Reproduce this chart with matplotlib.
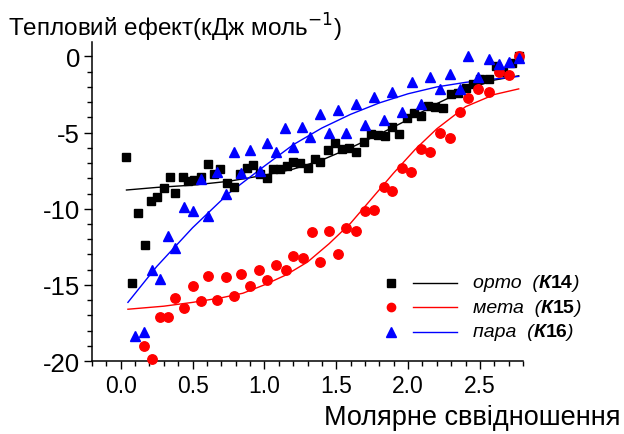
import numpy as np
import matplotlib
matplotlib.use("Agg")
import matplotlib.pyplot as plt
from matplotlib.ticker import MultipleLocator

plt.rcParams['font.family'] = ['Liberation Sans', 'DejaVu Sans']
plt.rcParams['axes.unicode_minus'] = False

# --- measured heat effect, kJ/mol, vs molar ratio ---
ortho_x = [0.04, 0.08, 0.12, 0.17, 0.21, 0.25, 0.30, 0.34, 0.38, 0.43, 0.47, 0.51,
           0.56, 0.61, 0.65, 0.69, 0.74, 0.79, 0.83, 0.88, 0.92, 0.97, 1.02, 1.06,
           1.11, 1.16, 1.20, 1.25, 1.30, 1.35, 1.39, 1.44, 1.49, 1.54, 1.59, 1.64,
           1.69, 1.74, 1.79, 1.84, 1.89, 1.94, 1.99, 2.04, 2.09, 2.14, 2.19, 2.24,
           2.30, 2.35, 2.40, 2.45, 2.50, 2.56, 2.61, 2.66, 2.72, 2.77]
ortho_y = [-6.6, -14.9, -10.25, -12.35, -9.5, -9.2, -8.65, -7.9, -8.95, -7.9, -8.2, -8.1,
           -7.9, -7.05, -7.7, -7.4, -8.3, -8.55, -7.75, -7.35, -7.15, -7.7, -7.95, -7.4,
           -7.4, -7.2, -6.9, -7.0, -7.35, -6.75, -6.9, -6.15, -5.7, -6.1, -6.0, -6.25,
           -5.65, -5.1, -5.15, -5.2, -4.6, -5.1, -4.05, -3.7, -3.9, -3.25, -3.35, -3.4,
           -2.45, -2.4, -2.05, -1.8, -1.5, -1.5, -0.6, -1.0, -0.4, 0.05]

meta_x = [0.16, 0.22, 0.27, 0.33, 0.38, 0.44, 0.50, 0.56, 0.61, 0.67, 0.73, 0.79,
          0.84, 0.90, 0.96, 1.02, 1.08, 1.15, 1.20, 1.27, 1.33, 1.39, 1.45, 1.51,
          1.57, 1.64, 1.70, 1.76, 1.83, 1.89, 1.96, 2.02, 2.09, 2.15, 2.22, 2.29,
          2.36, 2.42, 2.49, 2.56, 2.63, 2.70, 2.77]
meta_y = [-19.0, -19.9, -17.1, -17.1, -15.85, -16.5, -15.1, -16.05, -14.4, -16.0, -14.5, -15.7,
          -14.3, -15.1, -14.05, -14.65, -13.7, -14.05, -13.1, -13.25, -11.5, -13.5, -11.45, -12.95,
          -11.25, -11.45, -10.15, -10.1, -8.55, -8.85, -7.3, -7.6, -6.05, -6.3, -5.05, -5.35,
          -3.65, -2.75, -2.15, -2.35, -1.0, -1.2, 0.0]

para_x = [0.10, 0.16, 0.22, 0.27, 0.33, 0.38, 0.44, 0.50, 0.56, 0.61, 0.67, 0.73,
          0.79, 0.84, 0.90, 0.97, 1.02, 1.08, 1.14, 1.20, 1.26, 1.32, 1.39, 1.45,
          1.51, 1.57, 1.64, 1.70, 1.76, 1.83, 1.89, 1.96, 2.03, 2.09, 2.15, 2.22,
          2.29, 2.36, 2.42, 2.49, 2.56, 2.63, 2.70, 2.77]
para_y = [-18.35, -18.1, -14.05, -14.6, -11.8, -12.55, -9.9, -10.15, -8.05, -10.45, -7.6, -9.05,
          -6.3, -7.65, -6.15, -7.5, -5.7, -6.3, -4.7, -5.95, -4.6, -5.3, -3.75, -5.0,
          -3.5, -5.05, -3.15, -4.5, -2.65, -4.2, -2.35, -3.65, -1.7, -3.15, -1.35, -2.15,
          -1.15, -2.15, 0.05, -1.35, -0.15, -0.5, -0.35, -0.1]

# --- fitted curves ---
ortho_fit_x = [0.04, 0.25, 0.5, 0.75, 1.0, 1.2, 1.4, 1.6, 1.8, 2.0, 2.2, 2.4, 2.6, 2.77]
ortho_fit_y = [-8.77, -8.6, -8.45, -8.2, -7.8, -7.4, -6.8, -6.0, -5.1, -4.15, -3.1, -2.2, -1.55, -1.27]

meta_fit_x = [0.05, 0.3, 0.5, 0.7, 0.85, 1.0, 1.15, 1.3, 1.45, 1.6, 1.75, 1.9, 2.05, 2.2, 2.4, 2.6, 2.77]
meta_fit_y = [-16.6, -16.4, -16.15, -15.85, -15.55, -15.0, -14.35, -13.5, -12.3, -10.95, -9.3,
              -7.65, -6.1, -4.75, -3.3, -2.5, -2.13]

para_fit_x = [0.05, 0.25, 0.5, 0.75, 1.0, 1.2, 1.4, 1.6, 1.8, 2.0, 2.2, 2.4, 2.6, 2.77]
para_fit_y = [-16.15, -13.8, -11.25, -9.0, -7.2, -5.8, -4.7, -3.8, -3.05, -2.45, -2.0, -1.7, -1.48, -1.31]

labels = ["орто", "мета", "пара"]
codes = ["14", "15", "16"]
colors = ["black", "red", "blue"]
markers = ["s", "o", "^"]
msizes = [6.3, 6.8, 7.5]

x_ticks = [0.0, 0.5, 1.0, 1.5, 2.0, 2.5]
y_ticks = [0, -5, -10, -15, -20]

W, H = 624, 435
fig = plt.figure(figsize=(W / 100, H / 100), dpi=100)
ax = fig.add_axes([92 / W, 1 - 362 / H, (523 - 92) / W, (362 - 43) / H])

series = [(ortho_x, ortho_y, ortho_fit_x, ortho_fit_y),
          (meta_x, meta_y, meta_fit_x, meta_fit_y),
          (para_x, para_y, para_fit_x, para_fit_y)]

for (xs, ys, fx, fy), c, m, ms in zip(series, colors, markers, msizes):
    ax.plot(fx, fy, color=c, lw=1.0, zorder=2)
    ax.plot(xs, ys, ls="none", marker=m, ms=ms, color=c, mec=c, zorder=3, clip_on=False)

ax.set_xlim(-0.2, 2.8)
ax.set_ylim(-20, 0.95)
ax.set_xticks(x_ticks)
ax.set_xticklabels([f"{v:.1f}" for v in x_ticks])
ax.set_yticks(y_ticks)
ax.set_yticklabels([str(v) for v in y_ticks])
ax.xaxis.set_minor_locator(MultipleLocator(0.1))
ax.yaxis.set_minor_locator(MultipleLocator(1))

for s in ["top", "right"]:
    ax.spines[s].set_visible(False)
for s in ["left", "bottom"]:
    ax.spines[s].set_linewidth(1.1)

ax.tick_params(which="major", direction="out", length=5.5, width=1.0, pad=3)
ax.tick_params(which="minor", direction="out", length=3.5, width=1.0)
ax.tick_params(axis="y", labelsize=18.5)
ax.tick_params(axis="x", labelsize=16.5, pad=4)

# legend: symbol, line sample, label
rows_y = [0.245, 0.169, 0.091]
lfs = 14
for ry, c, m, ms, lab, code in zip(rows_y, colors, markers, msizes, labels, codes):
    ax.plot([0.694], [ry], transform=ax.transAxes, marker=m, ms=ms - 0.8, color=c,
            ls="none", clip_on=False)
    ax.plot([0.745, 0.847], [ry, ry], transform=ax.transAxes, color=c, lw=1.0, clip_on=False)
    t = ax.text(0.884, ry, lab + "  (", transform=ax.transAxes, fontsize=lfs,
                style="italic", va="center", ha="left")
    fig.canvas.draw()
    inv = ax.transAxes.inverted()
    bb = t.get_window_extent()
    x1 = inv.transform((bb.x1, bb.y0))[0]
    t2 = ax.text(x1, ry, "К", transform=ax.transAxes, fontsize=lfs,
                 style="italic", weight="bold", va="center", ha="left")
    bb2 = t2.get_window_extent()
    x2 = inv.transform((bb2.x1, bb2.y0))[0]
    t3 = ax.text(x2, ry, code, transform=ax.transAxes, fontsize=lfs,
                 weight="bold", va="center", ha="left")
    bb3 = t3.get_window_extent()
    x3 = inv.transform((bb3.x1, bb3.y0))[0]
    ax.text(x3, ry, ")", transform=ax.transAxes, fontsize=lfs,
            style="italic", va="center", ha="left")

fig.text(8 / W, 1 - 28 / H, "Тепловий ефект(кДж моль$^{-1}$)", fontsize=17.5,
         ha="left", va="center")
fig.text(620 / W, 1 - 418 / H, "Молярне сввідношення", fontsize=19.5,
         ha="right", va="center")

fig.savefig("out.png", dpi=100)
